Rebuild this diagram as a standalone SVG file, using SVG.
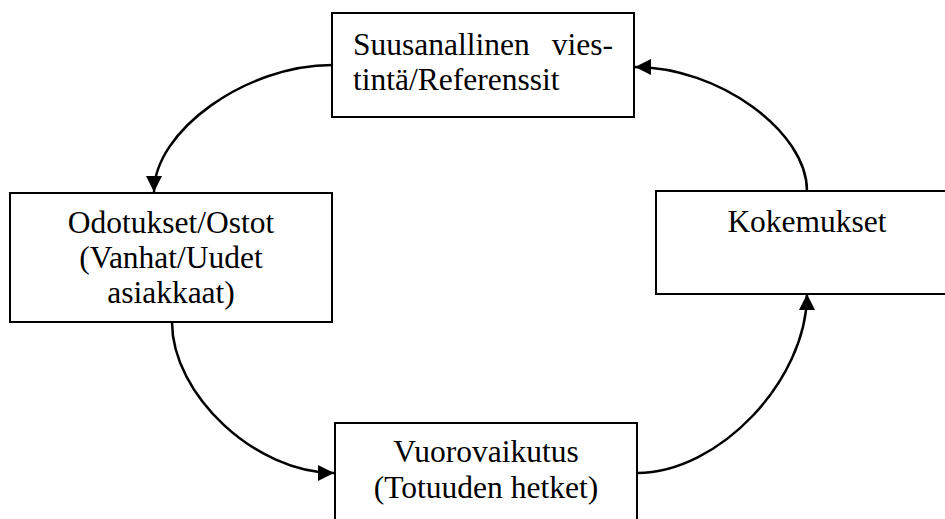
<svg xmlns="http://www.w3.org/2000/svg" width="945" height="519" viewBox="0 0 945 519">
<style>
.box{fill:#fff;stroke:#000;stroke-width:2}
.t{font-family:"Liberation Serif","Times New Roman",serif;font-size:31.5px;fill:#000}
.c{text-anchor:middle}
.conn{fill:none;stroke:#000;stroke-width:2.5;marker-end:url(#arr)}
</style>
<defs>
<marker id="arr" markerUnits="userSpaceOnUse" markerWidth="17" markerHeight="17" refX="16" refY="8.5" orient="auto" viewBox="0 0 17 17">
<path d="M0,0.5 L16,8.5 L0,16.5 z" fill="#000"/>
</marker>
</defs>
<rect width="945" height="519" fill="#fff"/>
<g id="connectors">
<path class="conn" d="M807 191 C807 131 718 67 635 67"/>
<path class="conn" d="M332 65 C246 65 154 131 154 192"/>
<path class="conn" d="M172 322 C172 395 256 473 334 473"/>
<path class="conn" d="M637 473 C719 473 807 380 807 294"/>
</g>
<g id="node-suusanallinen">
<rect class="box" x="332" y="13" width="302" height="104"/>
<text class="t" x="353" y="55">Suusanallinen</text>
<text class="t" x="613" y="55" text-anchor="end">vies-</text>
<text class="t" x="353" y="90">tintä/Referenssit</text>
</g>
<g id="node-odotukset">
<rect class="box" x="10" y="193" width="322" height="129"/>
<text class="t c" x="171" y="233">Odotukset/Ostot</text>
<text class="t c" x="171" y="268">(Vanhat/Uudet</text>
<text class="t c" x="171" y="303">asiakkaat)</text>
</g>
<g id="node-kokemukset">
<rect class="box" x="656" y="191" width="302" height="103"/>
<text class="t c" x="807" y="232">Kokemukset</text>
</g>
<g id="node-vuorovaikutus">
<rect class="box" x="335" y="423" width="302" height="110"/>
<text class="t c" x="486" y="462">Vuorovaikutus</text>
<text class="t c" x="486" y="498">(Totuuden hetket)</text>
</g>
</svg>
